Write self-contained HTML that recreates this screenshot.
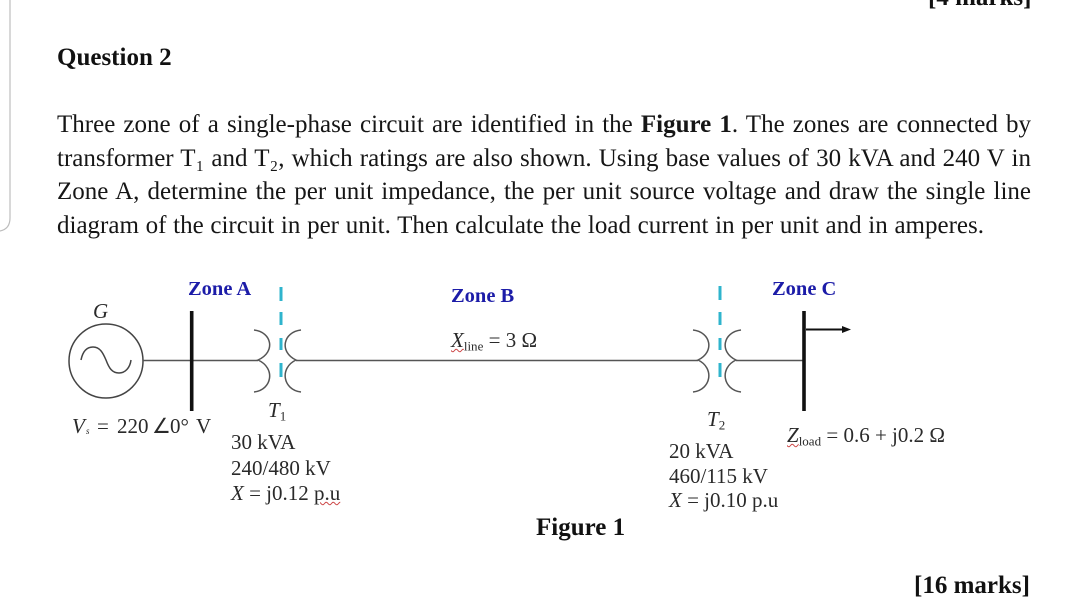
<!DOCTYPE html>
<html><head><meta charset="utf-8">
<style>
html,body{margin:0;padding:0;background:#fff}
#p{position:relative;width:1080px;height:600px;overflow:hidden;background:#fff;font-family:"Liberation Serif",serif;color:#111;filter:blur(.3px)}
.t{position:absolute;white-space:nowrap;line-height:1}
.j{position:absolute;left:57px;width:974px;font-size:25px;line-height:30px;height:30px;text-align:justify;text-align-last:justify;white-space:nowrap;color:#161616}
.z{font-weight:bold;font-size:20.5px;color:#1c1ca8}
.d{font-size:21px;color:#2a2a2a}
sub{font-size:.62em;line-height:0;vertical-align:-.25em}
.w{text-decoration:underline wavy #c44;text-decoration-thickness:1px}
svg{position:absolute;left:0;top:0}
</style></head>
<body><div id="p">
<svg width="1080" height="600" viewBox="0 0 1080 600" fill="none">
<path d="M10 0V218Q10 229 0 231" stroke="#bdbdbd" stroke-width="1.2"/>
<circle cx="106" cy="361" r="37" stroke="#444" stroke-width="1.5"/>
<path d="M81 360C83 350 88 347 93 347C100 347 103 353 106 360C109 368 112 373 119 373C125 373 130 368 131 360" stroke="#444" stroke-width="1.5"/>
<path d="M143 360.5H258M296 360.5H698M736 360.5H804" stroke="#555" stroke-width="1.6"/>
<path d="M191.7 311V411M804 311V411" stroke="#111" stroke-width="3.6"/>
<path d="M254 330C272 332 276 352 258 360C276 368 272 390 254 392M301 330C283 332 279 352 296 360C279 368 283 390 301 392" stroke="#555" stroke-width="1.5"/>
<path d="M693 330C711 332 715 352 698 360C715 368 711 390 693 392M741 330C723 332 719 352 736 360C719 368 723 390 741 392" stroke="#555" stroke-width="1.5"/>
<path d="M806 329.5H843" stroke="#111" stroke-width="2"/>
<path d="M851 329.5L842 326V333Z" fill="#111"/>
<path d="M281 287V301M281 312V325M281 338V350M281 363V377M720 286V300M720 312V325M720 338V350M720 363V377" stroke="#2fb4cd" stroke-width="3"/>
</svg>

<div class="t" style="left:928px;top:-15px;font-size:25px;font-weight:bold">[4 marks]</div>
<div class="t" style="left:57px;top:45px;font-size:25px;font-weight:bold">Question 2</div>

<div class="j" style="top:110px">Three zone of a single-phase circuit are identified in the <b>Figure 1</b>. The zones are connected by</div>
<div class="j" style="top:144px">transformer T₁ and T₂, which ratings are also shown. Using base values of 30 kVA and 240 V in</div>
<div class="j" style="top:177px">Zone A, determine the per unit impedance, the per unit source voltage and draw the single line</div>
<div class="j" style="top:211px;width:927px">diagram of the circuit in per unit. Then calculate the load current in per unit and in amperes.</div>

<div class="t z" style="left:188px;top:279px">Zone A</div>
<div class="t z" style="left:451px;top:286px">Zone B</div>
<div class="t z" style="left:772px;top:279px">Zone C</div>

<div class="t d" style="left:93px;top:301px"><i>G</i></div>
<div class="t d" style="left:72px;top:416px"><i>V</i></div>
<div class="t d" style="left:86px;top:427px;font-size:9px"><i>s</i></div>
<div class="t d" style="left:97px;top:416px">=</div>
<div class="t d" style="left:117px;top:416px">220</div>
<div class="t d" style="left:152px;top:416px">∠</div>
<div class="t d" style="left:170px;top:416px">0°</div>
<div class="t d" style="left:196px;top:416px">V</div>
<div class="t d" style="left:268px;top:400px"><i>T</i><sub>1</sub></div>
<div class="t d" style="left:231px;top:432px">30 kVA</div>
<div class="t d" style="left:231px;top:458px">240/480 kV</div>
<div class="t d" style="left:231px;top:483px"><i>X</i> = j0.12 <span class="w">p.u</span></div>

<div class="t d" style="left:451px;top:330px"><span class="w"><i>X</i><sub>line</sub></span> = 3 Ω</div>

<div class="t d" style="left:707px;top:409px"><i>T</i><sub>2</sub></div>
<div class="t d" style="left:669px;top:441px">20 kVA</div>
<div class="t d" style="left:669px;top:466px">460/115 kV</div>
<div class="t d" style="left:669px;top:490px"><i>X</i> = j0.10 p.u</div>
<div class="t d" style="left:787px;top:425px"><span class="w"><i>Z</i><sub>load</sub></span> = 0.6 + j0.2 Ω</div>

<div class="t" style="left:536px;top:515px;font-size:25px;font-weight:bold">Figure 1</div>
<div class="t" style="left:914px;top:573px;font-size:25px;font-weight:bold">[16 marks]</div>
</div></body></html>
